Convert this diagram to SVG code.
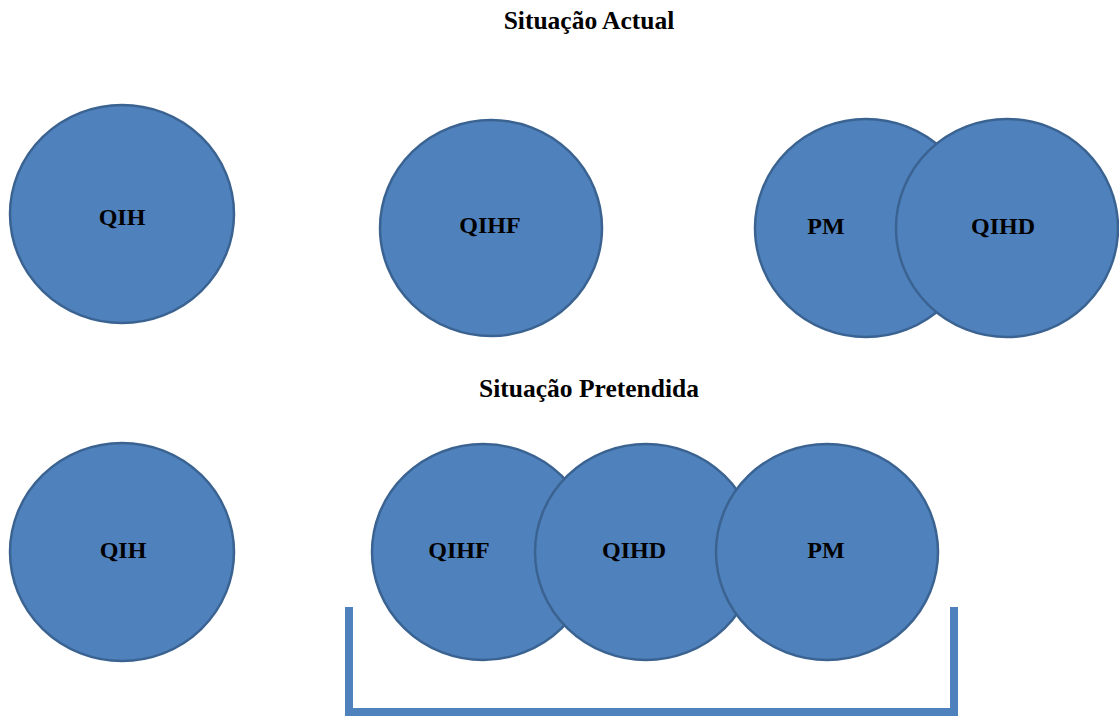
<svg xmlns="http://www.w3.org/2000/svg" width="1119" height="716" viewBox="0 0 1119 716">
  <style>
    .c { fill: #4f81bd; stroke: #3b6391; stroke-width: 2.5; }
    .lbl { font-family: "Liberation Serif", "Times New Roman", serif; font-weight: bold; font-size: 24px; fill: #000; text-anchor: middle; }
    .title { font-family: "Liberation Serif", "Times New Roman", serif; font-weight: bold; font-size: 25.5px; fill: #000; text-anchor: middle; }
    .bracket { fill: #4f81bd; }
  </style>
  <rect width="1119" height="716" fill="#ffffff"/>

  <!-- Current situation -->
  <text class="title" x="589" y="29">Situação Actual</text>

  <g id="qih-top">
    <ellipse class="c" cx="122" cy="214" rx="112" ry="109"/>
    <text class="lbl" x="122" y="225">QIH</text>
  </g>
  <g id="qihf-top">
    <ellipse class="c" cx="491" cy="228" rx="111" ry="108"/>
    <text class="lbl" x="490" y="233">QIHF</text>
  </g>
  <g id="pm-top">
    <ellipse class="c" cx="866" cy="228" rx="111" ry="109"/>
    <text class="lbl" x="826" y="234">PM</text>
  </g>
  <g id="qihd-top">
    <ellipse class="c" cx="1007" cy="228" rx="111" ry="109"/>
    <text class="lbl" x="1003" y="234">QIHD</text>
  </g>

  <!-- Intended situation -->
  <text class="title" x="589" y="397">Situação Pretendida</text>

  <g id="qih-bottom">
    <ellipse class="c" cx="122" cy="552" rx="112" ry="109"/>
    <text class="lbl" x="123" y="558">QIH</text>
  </g>
  <g id="qihf-bottom">
    <ellipse class="c" cx="483" cy="552" rx="111" ry="108"/>
    <text class="lbl" x="459" y="558">QIHF</text>
  </g>
  <g id="qihd-bottom">
    <ellipse class="c" cx="646" cy="552" rx="111" ry="108"/>
    <text class="lbl" x="634" y="558">QIHD</text>
  </g>
  <g id="pm-bottom">
    <ellipse class="c" cx="827" cy="552" rx="111" ry="108"/>
    <text class="lbl" x="826" y="558">PM</text>
  </g>

  <!-- Grouping bracket under the three merged circles -->
  <g id="bracket">
    <rect class="bracket" x="345" y="607" width="8" height="109"/>
    <rect class="bracket" x="950" y="607" width="8" height="109"/>
    <rect class="bracket" x="345" y="708" width="613" height="8"/>
  </g>
</svg>
